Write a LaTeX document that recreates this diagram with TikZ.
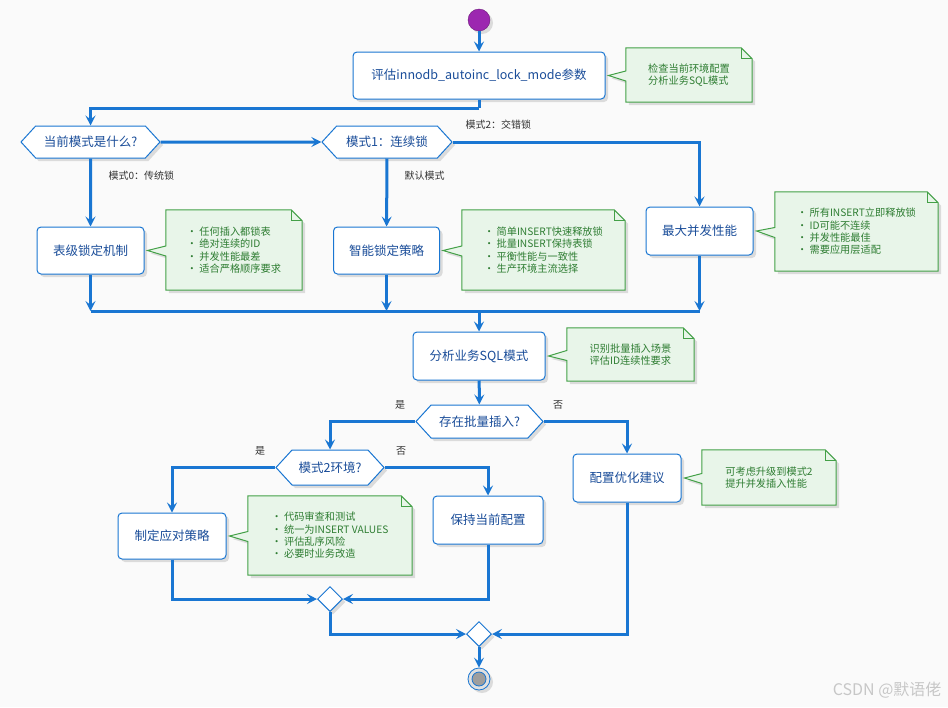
\documentclass[tikz,border=0pt]{standalone}
\usepackage{fontspec}
\newfontfamily\cjk{Noto Sans CJK SC}
\usetikzlibrary{arrows.meta,shapes.symbols,shapes.geometric,shadows,backgrounds}
\definecolor{flowblue}{HTML}{1976D2}
\definecolor{acttext}{HTML}{1A4D99}
\definecolor{notegreen}{HTML}{43A047}
\definecolor{notefill}{HTML}{E8F5E9}
\definecolor{notetext}{HTML}{2E7D32}
\definecolor{bgpage}{HTML}{FAFAFA}
\definecolor{startfill}{HTML}{9C27B0}
\tikzset{
  flow/.style={draw=flowblue, line width=3pt},
  flowarr/.style={flow, -{Stealth[length=10pt,width=10pt,inset=4pt]}},
  shade/.style={drop shadow={opacity=0.25,shadow xshift=3pt,shadow yshift=-3pt}},
  act/.style={draw=flowblue, line width=1pt, fill=white, rounded corners=4pt,
    text=acttext, font=\cjk\fontsize{12.5}{15}\selectfont, shade},
  choice/.style={signal, signal to=west and east, signal pointer angle=95,
    draw=flowblue, line width=1pt, fill=white, text=acttext,
    font=\cjk\fontsize{12.5}{15}\selectfont, minimum height=32pt, inner sep=0pt, shade},
  note/.style={text=notetext, font=\cjk\fontsize{10.2}{12.4}\selectfont, align=left},
  noteline/.style={draw=notegreen, line width=1pt, fill=notefill, shade},
  guard/.style={text=black!80, font=\cjk\fontsize{10}{12}\selectfont},
  merge/.style={diamond, draw=flowblue, line width=1pt, fill=white,
    minimum size=25pt, inner sep=0pt, shade},
}
% note frame with folded corner, pointing at an activity
\newcommand{\noteframe}[2]{%
  \draw[noteline] (#1.north west) -- ([xshift=-11pt]#1.north east)
    -- ([yshift=-11pt]#1.north east) -- (#1.south east) -- (#1.south west)
    -- ([yshift=-6pt]#1.west) -- ([xshift=3pt]#2.east) -- ([yshift=4pt]#1.west) -- cycle;
  \draw[draw=notegreen, line width=1pt] ([xshift=-11pt]#1.north east)
    -- ([xshift=-11pt,yshift=-11pt]#1.north east) -- ([yshift=-11pt]#1.north east);
}
\begin{document}
\begin{tikzpicture}[x=1pt,y=-1pt]
    \useasboundingbox (0,0) rectangle (948,707);
    \begin{scope}[on background layer]
        \fill[bgpage] (0,0) rectangle (948,707);
    \end{scope}
    %% start and first check
    \node[circle, fill=startfill, draw=startfill!70!black, minimum size=22pt, inner sep=0pt, shade] (start) at (479,20) {};
    \node[act, minimum width=252pt, minimum height=47pt] (eval) at (479,75.5) {评估innodb\_autoinc\_lock\_mode参数};
    \node[note, minimum width=126pt, minimum height=54pt] (evalnote) at (689,75) {检查当前环境配置\\分析业务SQL模式};
    \coordinate (split) at (479,108);
    %% lock modes
    \node[choice, minimum width=139pt] (mode) at (90.5,142) {当前模式是什么?};
    \node[choice, minimum width=130pt] (mode1) at (387,142) {模式1：连续锁};
    \node[act, minimum width=107pt, minimum height=47pt] (tablelock) at (90.5,250.5) {表级锁定机制};
    \node[note, minimum width=136pt, minimum height=80pt] (tablenote) at (234,250) {• 任何插入都锁表\\• 绝对连续的ID\\• 并发性能最差\\• 适合严格顺序要求};
    \node[act, minimum width=106pt, minimum height=47pt] (smartlock) at (386.5,250.5) {智能锁定策略};
    \node[note, minimum width=163pt, minimum height=80pt] (smartnote) at (543.5,250) {• 简单INSERT快速释放锁\\• 批量INSERT保持表锁\\• 平衡性能与一致性\\• 生产环境主流选择};
    \node[act, minimum width=107pt, minimum height=48pt] (maxconc) at (699.5,231) {最大并发性能};
    \node[note, minimum width=163pt, minimum height=79pt] (maxnote) at (856.5,231.5) {• 所有INSERT立即释放锁\\• ID可能不连续\\• 并发性能最佳\\• 需要应用层适配};
    \node[guard, anchor=west] (mode0lbl) at (105,176) {模式0：传统锁};
    \node[guard, anchor=west] (mode1lbl) at (401,176) {默认模式};
    \node[guard, anchor=west] (mode2lbl) at (462,125) {模式2：交错锁};
    %% business analysis
    \coordinate (join) at (479,311);
    \node[act, minimum width=132pt, minimum height=48pt] (analyse) at (479,356) {分析业务SQL模式};
    \node[note, minimum width=127pt, minimum height=53pt] (analysenote) at (630.5,354.5) {识别批量插入场景\\评估ID连续性要求};
    \node[choice, minimum width=127pt, minimum height=33pt] (batch) at (479.5,421.5) {存在批量插入?};
    \node[guard] (batchyes) at (400,405) {是};
    \node[guard] (batchno) at (558,405) {否};
    \node[choice, minimum width=108pt, minimum height=35pt] (env) at (330,467.5) {模式2环境?};
    \node[guard] (envyes) at (260,451) {是};
    \node[guard] (envno) at (401,451) {否};
    \node[act, minimum width=108pt, minimum height=48pt] (advice) at (627,478) {配置优化建议};
    \node[note, minimum width=134pt, minimum height=55pt] (advicenote) at (769,477.5) {可考虑升级到模式2\\提升并发插入性能};
    \node[act, minimum width=108pt, minimum height=46pt] (plan) at (172,536) {制定应对策略};
    \node[note, minimum width=164pt, minimum height=79pt] (plannote) at (330,535.5) {• 代码审查和测试\\• 统一为INSERT VALUES\\• 评估乱序风险\\• 必要时业务改造};
    \node[act, minimum width=110pt, minimum height=48pt] (keep) at (488,520) {保持当前配置};
    %% merge and stop
    \node[merge] (merge1) at (330,599) {};
    \node[merge] (merge2) at (479,634) {};
    \node[circle, draw=flowblue, fill=black!12, minimum size=22pt, inner sep=0pt, line width=0.8pt, shade] (stop) at (479,679) {};
    \node[circle, draw=flowblue, fill=black!38, minimum size=14pt, inner sep=0pt, line width=0.8pt] (stopdot) at (stop) {};
    \node[text=black!22, font=\cjk\fontsize{16}{18}\selectfont, anchor=east] (mark) at (945,690) {CSDN @默语佬};
    %% notes
    \begin{scope}[on background layer]
        \foreach \n/\a in {evalnote/eval, tablenote/tablelock, smartnote/smartlock, maxnote/maxconc,
            analysenote/analyse, advicenote/advice, plannote/plan}
            \noteframe{\n}{\a};
    \end{scope}
    %% flow
    \draw[flowarr] (start) -- (eval);
    \draw[flow] (eval) -- (split);
    \draw[flowarr] (split) -| (mode);
    \draw[flowarr] (mode) -- (mode1);
    \draw[flowarr] (mode) -- (tablelock);
    \draw[flowarr] (mode1) -- (smartlock);
    \draw[flowarr] (mode1) -| (maxconc);
    \draw[flowarr] (tablelock) -- (tablelock |- join);
    \draw[flowarr] (smartlock) -- (smartlock |- join);
    \draw[flowarr] (maxconc) -- (maxconc |- join);
    \draw[flow] (tablelock |- join) -- (maxconc |- join);
    \draw[flowarr] (join) -- (analyse);
    \draw[flowarr] (analyse) -- (batch);
    \draw[flowarr] (batch) -| (env);
    \draw[flowarr] (batch) -| (advice);
    \draw[flowarr] (env) -| (plan);
    \draw[flowarr] (env) -| (keep);
    \draw[flowarr] (plan) |- (merge1);
    \draw[flowarr] (keep) |- (merge1);
    \draw[flowarr] (merge1) |- (merge2);
    \draw[flowarr] (advice) |- (merge2);
    \draw[flowarr] (merge2) -- (stop);
\end{tikzpicture}
\end{document}
